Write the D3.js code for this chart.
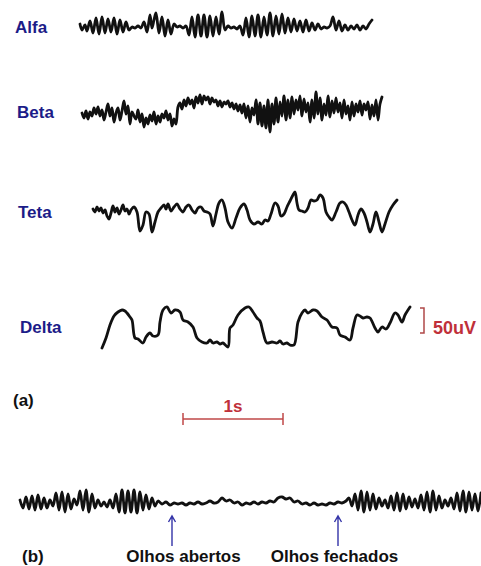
<!DOCTYPE html>
<html>
<head>
<meta charset="utf-8">
<script src="https://cdn.jsdelivr.net/npm/d3@7"></script>
<style>
  html, body { margin: 0; padding: 0; background: #fff; }
  svg { display: block; }
  text { font-family: "Liberation Sans", Arial, sans-serif; font-weight: bold; }
</style>
</head>
<body>
<script>
// traces: [time (s), amplitude (uV)]
const alfa = [[0.80,6],[0.82,-6],[0.85,4],[0.87,-8],[0.90,12],[0.93,-12],[0.96,18],[0.99,-14],[1.02,20],[1.05,-12],[1.08,16],[1.11,-10],[1.14,18],[1.17,-14],[1.20,14],[1.23,-10],[1.26,10],[1.29,-6],[1.32,0],[1.35,-2],[1.38,2],[1.41,-2],[1.44,10],[1.47,-10],[1.50,24],[1.52,-2],[1.54,14],[1.56,28],[1.59,-12],[1.62,20],[1.65,-18],[1.68,14],[1.71,-14],[1.74,6],[1.77,0],[1.80,2],[1.83,-2],[1.86,2],[1.89,-16],[1.92,20],[1.95,-20],[1.98,24],[2.01,-18],[2.04,24],[2.07,-20],[2.10,22],[2.13,-18],[2.16,20],[2.19,-14],[2.22,30],[2.25,-6],[2.28,2],[2.31,-2],[2.34,0],[2.37,-4],[2.40,2],[2.43,-16],[2.46,18],[2.49,-20],[2.52,22],[2.55,-18],[2.58,24],[2.61,-20],[2.64,20],[2.67,-16],[2.70,28],[2.73,-18],[2.76,22],[2.79,-14],[2.82,26],[2.85,-12],[2.88,18],[2.91,-10],[2.94,16],[2.97,-8],[3.00,12],[3.03,-10],[3.06,14],[3.09,-8],[3.12,8],[3.15,-6],[3.18,6],[3.21,-4],[3.24,0],[3.27,-2],[3.30,2],[3.33,20],[3.36,-6],[3.39,12],[3.42,-8],[3.45,4],[3.48,-6],[3.51,2],[3.54,-4],[3.57,4],[3.60,-6],[3.63,2],[3.66,-4],[3.69,6],[3.72,14]];

const beta = [[0.82,-2],[0.84,-12],[0.86,2],[0.88,-14],[0.90,0],[0.92,-8],[0.94,8],[0.96,-4],[0.98,10],[1.00,-8],[1.02,4],[1.04,-16],[1.06,0],[1.08,16],[1.10,-8],[1.12,8],[1.14,-20],[1.16,-2],[1.18,8],[1.20,-16],[1.22,2],[1.24,22],[1.26,-4],[1.28,12],[1.30,-24],[1.32,0],[1.34,-8],[1.36,-14],[1.38,4],[1.40,-20],[1.42,-4],[1.44,-30],[1.46,-12],[1.48,-24],[1.50,-6],[1.52,-18],[1.54,0],[1.56,-24],[1.58,-8],[1.60,-20],[1.62,-4],[1.64,-12],[1.66,2],[1.68,-16],[1.70,-4],[1.72,-28],[1.74,-14],[1.76,-24],[1.78,10],[1.80,18],[1.82,6],[1.84,24],[1.86,12],[1.88,28],[1.90,16],[1.92,24],[1.94,8],[1.96,30],[1.98,18],[2.00,34],[2.02,16],[2.04,32],[2.06,24],[2.08,30],[2.10,16],[2.12,28],[2.14,20],[2.16,24],[2.18,12],[2.20,22],[2.22,10],[2.24,20],[2.26,16],[2.28,22],[2.30,10],[2.32,18],[2.34,6],[2.36,16],[2.38,2],[2.40,14],[2.42,-2],[2.44,16],[2.46,-12],[2.48,12],[2.50,-20],[2.52,8],[2.54,-6],[2.56,24],[2.58,-24],[2.60,18],[2.62,-28],[2.64,12],[2.66,-32],[2.68,24],[2.70,-40],[2.72,16],[2.74,-24],[2.76,28],[2.78,-20],[2.80,20],[2.82,-8],[2.84,32],[2.86,-16],[2.88,24],[2.90,-12],[2.92,30],[2.94,-4],[2.96,24],[2.98,4],[3.00,32],[3.02,-8],[3.04,26],[3.06,0],[3.08,18],[3.10,-20],[3.12,24],[3.14,-12],[3.16,40],[3.18,-4],[3.20,28],[3.22,-16],[3.24,16],[3.26,-6],[3.28,32],[3.30,-10],[3.32,22],[3.34,-2],[3.36,28],[3.38,0],[3.40,18],[3.42,-12],[3.44,24],[3.46,-4],[3.48,12],[3.50,-16],[3.52,20],[3.54,-8],[3.56,16],[3.58,0],[3.60,22],[3.62,-6],[3.64,16],[3.66,4],[3.68,20],[3.70,-14],[3.72,14],[3.74,-8],[3.76,24],[3.78,-16],[3.80,16],[3.82,30]];

const teta = [[0.93,6],[0.95,0],[0.97,10],[0.99,2],[1.01,8],[1.03,-2],[1.05,4],[1.07,-8],[1.09,-14],[1.11,-2],[1.13,12],[1.15,0],[1.17,8],[1.19,-4],[1.21,4],[1.23,14],[1.25,2],[1.27,6],[1.29,-4],[1.31,4],[1.34,10],[1.37,0],[1.40,-38],[1.43,-26],[1.46,0],[1.49,-4],[1.52,-40],[1.55,-20],[1.58,0],[1.61,8],[1.64,14],[1.66,6],[1.68,16],[1.71,2],[1.74,10],[1.77,16],[1.80,6],[1.83,0],[1.86,10],[1.89,14],[1.92,4],[1.95,-2],[1.98,8],[2.01,10],[2.04,2],[2.07,0],[2.10,-4],[2.13,-28],[2.16,-4],[2.19,18],[2.22,24],[2.25,8],[2.28,-20],[2.32,-32],[2.36,-12],[2.40,8],[2.44,16],[2.47,4],[2.50,-16],[2.54,-24],[2.58,-20],[2.62,-24],[2.65,-16],[2.68,-18],[2.71,-4],[2.75,18],[2.78,12],[2.81,-8],[2.84,-4],[2.87,10],[2.90,22],[2.93,34],[2.95,40],[2.97,18],[2.99,4],[3.02,2],[3.05,0],[3.08,8],[3.11,24],[3.14,22],[3.17,24],[3.20,34],[3.23,28],[3.26,0],[3.29,-10],[3.32,-16],[3.36,0],[3.40,18],[3.43,20],[3.46,14],[3.49,0],[3.52,-16],[3.55,-26],[3.58,-6],[3.61,6],[3.64,-2],[3.67,-20],[3.70,-40],[3.73,-24],[3.76,0],[3.79,-20],[3.82,-40],[3.85,-24],[3.89,0],[3.93,14],[3.97,24]];

const delta = [[1.02,-42],[1.06,-22],[1.10,4],[1.14,22],[1.18,30],[1.22,34],[1.25,32],[1.27,28],[1.30,20],[1.32,14],[1.35,-22],[1.38,-24],[1.43,-32],[1.46,-20],[1.50,-12],[1.53,-18],[1.58,-16],[1.60,10],[1.63,34],[1.67,40],[1.71,28],[1.75,34],[1.80,30],[1.83,14],[1.88,10],[1.93,0],[1.97,-22],[2.02,-30],[2.07,-32],[2.10,-26],[2.13,-32],[2.17,-30],[2.20,-34],[2.23,-32],[2.28,-40],[2.30,-2],[2.33,4],[2.38,24],[2.45,38],[2.49,40],[2.53,30],[2.57,18],[2.60,12],[2.63,-10],[2.67,-32],[2.72,-30],[2.77,-32],[2.80,-28],[2.83,-34],[2.87,-32],[2.90,-36],[2.94,-36],[2.98,10],[3.02,28],[3.05,34],[3.08,28],[3.13,34],[3.17,32],[3.22,20],[3.27,14],[3.32,0],[3.37,-2],[3.40,-16],[3.45,-20],[3.50,-26],[3.53,-2],[3.57,24],[3.60,22],[3.63,18],[3.67,20],[3.70,18],[3.75,-2],[3.78,-10],[3.82,0],[3.86,-4],[3.90,8],[3.95,28],[3.98,24],[4.02,10],[4.05,24],[4.10,40]];

const eyes = [[0.20,4],[0.23,-12],[0.26,10],[0.29,-14],[0.32,12],[0.35,-16],[0.38,14],[0.41,-14],[0.44,8],[0.47,-12],[0.50,4],[0.53,-8],[0.56,18],[0.59,-16],[0.62,20],[0.65,-20],[0.68,16],[0.71,-14],[0.74,6],[0.77,-6],[0.80,22],[0.83,-16],[0.86,24],[0.89,-20],[0.92,16],[0.95,-12],[0.98,4],[1.01,-8],[1.04,0],[1.07,-10],[1.10,4],[1.13,-12],[1.16,16],[1.19,-20],[1.22,24],[1.25,-22],[1.28,22],[1.31,-20],[1.34,24],[1.37,-22],[1.40,20],[1.43,-16],[1.46,14],[1.49,-14],[1.52,8],[1.55,-8],[1.58,2],[1.62,-4],[1.66,0],[1.70,-6],[1.74,-2],[1.78,-4],[1.82,-2],[1.86,-6],[1.90,-2],[1.94,-4],[1.98,0],[2.02,-4],[2.06,-2],[2.10,2],[2.14,-2],[2.18,0],[2.22,8],[2.26,2],[2.30,4],[2.34,-2],[2.38,0],[2.42,-6],[2.46,-2],[2.50,-4],[2.54,0],[2.58,-4],[2.62,0],[2.66,-2],[2.70,2],[2.74,0],[2.78,8],[2.82,10],[2.86,6],[2.90,8],[2.94,0],[2.98,2],[3.02,-4],[3.06,-2],[3.10,-6],[3.14,-2],[3.18,-6],[3.22,-4],[3.26,-6],[3.30,-2],[3.34,-4],[3.38,0],[3.42,-2],[3.46,2],[3.49,8],[3.52,-8],[3.55,16],[3.58,-16],[3.61,22],[3.64,-20],[3.67,20],[3.70,-16],[3.73,16],[3.76,-14],[3.79,8],[3.82,-8],[3.85,4],[3.88,-12],[3.91,12],[3.94,-16],[3.97,18],[4.00,-18],[4.03,16],[4.06,-14],[4.09,10],[4.12,-10],[4.15,6],[4.18,-12],[4.21,14],[4.24,-16],[4.27,20],[4.30,-20],[4.33,22],[4.36,-16],[4.39,12],[4.42,-12],[4.45,4],[4.48,-8],[4.51,8],[4.54,-14],[4.57,18],[4.60,-18],[4.63,22],[4.66,-20],[4.69,20],[4.72,-16],[4.75,16],[4.78,-18],[4.81,18]];

const bandNames = ["Alfa", "Beta", "Teta", "Delta"];
const bandTraces = [alfa, beta, teta, delta];

const scaleBarTime = [1.83, 2.83];   // 1 s
const scaleBarAmp = [-12, 38];       // 50 uV
const eyeEvents = ["Olhos abertos", "Olhos fechados"];
const eyeEventTimes = [1.72, 3.38];
const eyeLabelTimes = [1.835, 3.345];

const W = 481, H = 566;
const svg = d3.select("body").append("svg").attr("width", W).attr("height", H);

const x = d3.scaleLinear().domain([0, 4.81]).range([0, W]);
const amp = d3.scaleLinear().domain([-50, 50]).range([25, -25]);

const rowY = [27, 112, 212, 327];
const labelX = [15, 17, 18, 20];
const eyesY = 502;

const line = d3.line()
  .x(d => x(d[0]))
  .y(d => amp(d[1]))
  .curve(d3.curveCatmullRom.alpha(0.5));

const rows = svg.selectAll("g.band")
  .data(bandNames)
  .enter()
  .append("g")
  .attr("class", "band")
  .attr("transform", (d, i) => `translate(0,${rowY[i]})`);

rows.append("path")
  .attr("d", (d, i) => line(bandTraces[i]))
  .attr("fill", "none")
  .attr("stroke", "#111")
  .attr("stroke-width", 2.8)
  .attr("stroke-linejoin", "round")
  .attr("stroke-linecap", "round");

rows.append("text")
  .attr("x", (d, i) => labelX[i])
  .attr("y", 6)
  .attr("font-size", 17)
  .attr("fill", "#1c1c88")
  .text(d => d);

// 50 uV bracket next to Delta
const red = "#c0303a";
const bx = 424;
const delta_g = rows.filter((d, i) => i === 3);
delta_g.append("path")
  .attr("d", `M${bx - 4},${amp(scaleBarAmp[1])}H${bx}V${amp(scaleBarAmp[0])}H${bx - 4}`)
  .attr("fill", "none")
  .attr("stroke", "#b04848")
  .attr("stroke-width", 1.5);
delta_g.append("text")
  .attr("x", 433)
  .attr("y", 7)
  .attr("font-size", 18)
  .attr("fill", red)
  .text("50uV");

// (a) and the 1 s bar
svg.append("text").attr("x", 13).attr("y", 406).attr("font-size", 17).attr("fill", "#111").text("(a)");

const barY = 419;
svg.append("path")
  .attr("d", `M${x(scaleBarTime[0])},${barY}H${x(scaleBarTime[1])}` +
    `M${x(scaleBarTime[0])},${barY - 6}V${barY + 6}M${x(scaleBarTime[1])},${barY - 6}V${barY + 6}`)
  .attr("stroke", "#c04848")
  .attr("stroke-width", 1.5)
  .attr("fill", "none");
svg.append("text")
  .attr("x", x((scaleBarTime[0] + scaleBarTime[1]) / 2))
  .attr("y", 412)
  .attr("text-anchor", "middle")
  .attr("font-size", 17)
  .attr("fill", red)
  .text("1s");

// (b) eyes open / closed trace
const gb = svg.append("g").attr("transform", `translate(0,${eyesY})`);
gb.append("path")
  .attr("d", line(eyes))
  .attr("fill", "none")
  .attr("stroke", "#111")
  .attr("stroke-width", 2.8)
  .attr("stroke-linejoin", "round")
  .attr("stroke-linecap", "round");

const blue = "#3434a8";
svg.selectAll("path.arrow")
  .data(eyeEventTimes)
  .enter()
  .append("path")
  .attr("class", "arrow")
  .attr("d", t => `M${x(t)},546V516M${x(t) - 3.5},522L${x(t)},516L${x(t) + 3.5},522`)
  .attr("fill", "none")
  .attr("stroke", blue)
  .attr("stroke-width", 1.4);

svg.selectAll("text.event")
  .data(eyeEvents)
  .enter()
  .append("text")
  .attr("class", "event")
  .attr("x", (d, i) => x(eyeLabelTimes[i]))
  .attr("y", 562)
  .attr("text-anchor", "middle")
  .attr("font-size", 17)
  .attr("fill", "#111")
  .text(d => d);

svg.append("text").attr("x", 22).attr("y", 562).attr("font-size", 17).attr("fill", "#111").text("(b)");
</script>
</body>
</html>
